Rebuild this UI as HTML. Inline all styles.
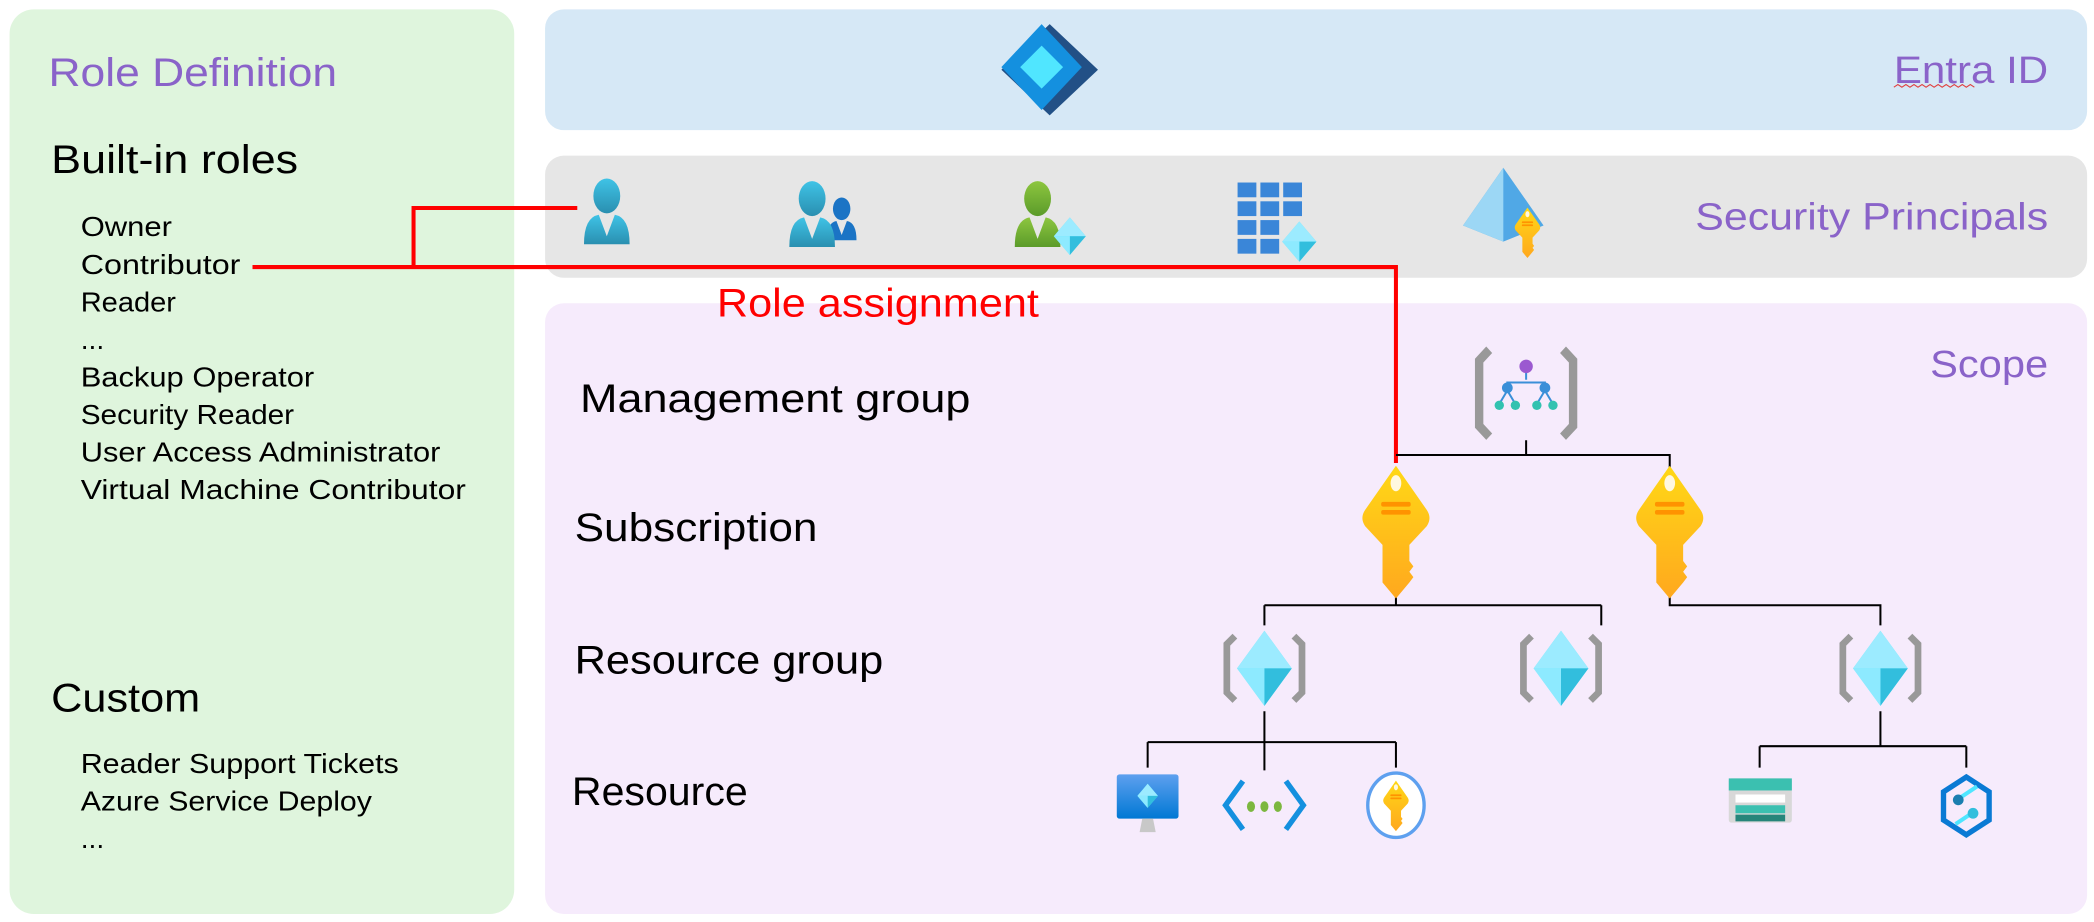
<!DOCTYPE html>
<html><head><meta charset="utf-8"><style>
html,body{margin:0;padding:0;background:#fff;width:2094px;height:922px;overflow:hidden}
svg{display:block}
text{font-family:"Liberation Sans",sans-serif}
</style></head><body>
<svg width="2094" height="922" viewBox="0 0 1560 687" xmlns="http://www.w3.org/2000/svg">
<defs>
<linearGradient id="person" x1="0" y1="0" x2="0" y2="1"><stop offset="0" stop-color="#3fc3e6"/><stop offset="1" stop-color="#2a8fb0"/></linearGradient>
<linearGradient id="green" x1="0" y1="0" x2="0" y2="1"><stop offset="0" stop-color="#8dc63f"/><stop offset="1" stop-color="#5b9b2a"/></linearGradient>
<linearGradient id="key" x1="0" y1="0" x2="0" y2="1"><stop offset="0" stop-color="#ffd816"/><stop offset="1" stop-color="#ffa81e"/></linearGradient>
<linearGradient id="vm" x1="0" y1="0" x2="0" y2="1"><stop offset="0" stop-color="#5ea0ef"/><stop offset="1" stop-color="#0078d4"/></linearGradient>
<g id="cube"><polygon points="0,-20 17,0 0,20 -17,0" fill="#50e6ff"/><polygon points="0,-20 17,0 0,0 -17,0" fill="#9cebff"/><polygon points="0,0 17,0 0,20" fill="#32bedd"/><polygon points="0,0 -17,0 0,20" fill="#9cebff" opacity=".8"/></g>
<g id="br"><path d="M-22,-24 L-28,-18 L-28,18 L-22,24 M22,-24 L28,-18 L28,18 L22,24" fill="none" stroke="#999" stroke-width="5"/></g>
<g id="keyi"><path d="M0,-43 L23,-10 Q27,-4 23,2 L10,16 L10,28 L13,32 L10,36 L13,40 L10,44 L0,56 L-10,44 L-10,16 L-23,2 Q-27,-4 -23,-10 Z" fill="url(#key)"/><ellipse cx="0" cy="-30" rx="4" ry="6" fill="#fff8e0"/><rect x="-11" y="-16" width="22" height="3.5" rx="1.5" fill="#ff9300"/><rect x="-11" y="-10" width="22" height="3.5" rx="1.5" fill="#ff9300"/></g>
<g id="pers"><ellipse cx="0" cy="-16" rx="10" ry="13"/><path d="M-17,20 Q-17,0 -6,-2 L0,14 L6,-2 Q17,0 17,20 Z"/></g>
</defs>

<rect x="7" y="7" width="376" height="674" rx="18" fill="#dff5dd"/>
<rect x="406" y="7" width="1149" height="90" rx="14" fill="#d6e8f6"/>
<rect x="406" y="116" width="1149" height="91" rx="14" fill="#e6e6e6"/>
<rect x="406" y="226" width="1149" height="455" rx="14" fill="#f6ebfc"/>

<text x="36" y="64" font-size="30" fill="#8a63c9" textLength="215" lengthAdjust="spacingAndGlyphs">Role Definition</text>
<text x="38" y="129" font-size="30" fill="#000" textLength="184" lengthAdjust="spacingAndGlyphs">Built-in roles</text>
<g font-size="21" fill="#000">
<text x="60" y="176" textLength="68" lengthAdjust="spacingAndGlyphs">Owner</text>
<text x="60" y="204" textLength="119" lengthAdjust="spacingAndGlyphs">Contributor</text>
<text x="60" y="232" textLength="71" lengthAdjust="spacingAndGlyphs">Reader</text>
<text x="60" y="260">...</text>
<text x="60" y="288" textLength="174" lengthAdjust="spacingAndGlyphs">Backup Operator</text>
<text x="60" y="316" textLength="159" lengthAdjust="spacingAndGlyphs">Security Reader</text>
<text x="60" y="344" textLength="268" lengthAdjust="spacingAndGlyphs">User Access Administrator</text>
<text x="60" y="372" textLength="287" lengthAdjust="spacingAndGlyphs">Virtual Machine Contributor</text>
<text x="60" y="576" textLength="237" lengthAdjust="spacingAndGlyphs">Reader Support Tickets</text>
<text x="60" y="604" textLength="217" lengthAdjust="spacingAndGlyphs">Azure Service Deploy</text>
<text x="60" y="632">...</text>
</g>
<text x="38" y="530" font-size="30" fill="#000" textLength="111" lengthAdjust="spacingAndGlyphs">Custom</text>

<text x="1411" y="62" font-size="28" fill="#8a63c9" textLength="115" lengthAdjust="spacingAndGlyphs">Entra ID</text>
<path d="M1411,65 l3,-2 l3,2 l3,-2 l3,2 l3,-2 l3,2 l3,-2 l3,2 l3,-2 l3,2 l3,-2 l3,2 l3,-2 l3,2 l3,-2 l3,2 l3,-2 l3,2 l3,-2 l3,2" fill="none" stroke="#e04040" stroke-width="0.8"/>
<text x="1263" y="171" font-size="28" fill="#8a63c9" textLength="263" lengthAdjust="spacingAndGlyphs">Security Principals</text>
<text x="1438" y="281" font-size="28" fill="#8a63c9" textLength="88" lengthAdjust="spacingAndGlyphs">Scope</text>
<text x="534" y="236" font-size="30" fill="#ff0000" textLength="240" lengthAdjust="spacingAndGlyphs">Role assignment</text>
<g font-size="30" fill="#000">
<text x="432" y="307" textLength="291" lengthAdjust="spacingAndGlyphs">Management group</text>
<text x="428" y="403" textLength="181" lengthAdjust="spacingAndGlyphs">Subscription</text>
<text x="428" y="502" textLength="230" lengthAdjust="spacingAndGlyphs">Resource group</text>
<text x="426" y="600" textLength="131" lengthAdjust="spacingAndGlyphs">Resource</text>
</g>

<g transform="translate(782,52)">
<polygon points="0,-34 36,0 0,34 -36,0" fill="#225086"/>
<polygon points="-6,-34 -36,-2 -6,30 24,-2" fill="#1490df"/>
<polygon points="-6,-18 10,-2 -6,14 -22,-2" fill="#50e6ff"/>
</g>

<g fill="url(#person)"><use href="#pers" transform="translate(452,162)"/></g>
<g fill="#1b74c5"><use href="#pers" transform="translate(627,166) scale(0.65)"/></g>
<g fill="url(#person)"><use href="#pers" transform="translate(605,164)"/></g>
<g fill="url(#green)"><use href="#pers" transform="translate(773,164)"/></g>
<use href="#cube" transform="translate(797,176) scale(0.7)"/>
<g fill="#3a86d8">
<rect x="922" y="136" width="14" height="11"/><rect x="939" y="136" width="14" height="11"/><rect x="956" y="136" width="14" height="11"/>
<rect x="922" y="150" width="14" height="11"/><rect x="939" y="150" width="14" height="11"/><rect x="956" y="150" width="14" height="11"/>
<rect x="922" y="164" width="14" height="11"/><rect x="939" y="164" width="14" height="11"/>
<rect x="922" y="178" width="14" height="11"/><rect x="939" y="178" width="14" height="11"/>
</g>
<use href="#cube" transform="translate(968,180) scale(0.75)"/>
<g transform="translate(1120,158)">
<polygon points="0,-33 30,10 0,22 -30,10" fill="#50a8e6"/><polygon points="0,-33 0,22 -30,10" fill="#9cd7f5"/>
</g>
<use href="#keyi" transform="translate(1138,171) scale(0.38)"/>

<g fill="none" stroke="#ff0000" stroke-width="3">
<path d="M188,199 H1040 V345"/>
<path d="M308,199 V155 H430"/>
</g>

<g fill="none" stroke="#000" stroke-width="1.5">
<path d="M1137,328 V339 M1040,339 H1244 V350"/>
<path d="M1040,435 V451 M942,451 H1193 M942,451 V466 M1193,451 V466"/>
<path d="M1244,435 V451 H1401 V466"/>
<path d="M942,530 V553 M855,553 H1040 M855,553 V572 M942,553 V574 M1040,553 V572"/>
<path d="M1401,530 V556 M1311,556 H1465 M1311,556 V572 M1465,556 V572"/>
</g>

<g transform="translate(1137,293)">
<use href="#br" transform="scale(1.25,1.35)"/>
<g stroke="#3a8fd8" stroke-width="1.5" fill="none"><path d="M0,-18 V-10 M-14,-2 V-8 H14 V-2 M-14,-2 L-20,8 M-14,-2 L-8,8 M14,-2 L8,8 M14,-2 L20,8"/></g>
<circle cx="0" cy="-20" r="5" fill="#9b59d0"/>
<circle cx="-14" cy="-4" r="4" fill="#3a8fd8"/><circle cx="14" cy="-4" r="4" fill="#3a8fd8"/>
<g fill="#32c2b0"><circle cx="-20" cy="9" r="3.5"/><circle cx="-8" cy="9" r="3.5"/><circle cx="8" cy="9" r="3.5"/><circle cx="20" cy="9" r="3.5"/></g>
</g>

<use href="#keyi" transform="translate(1040,390)"/>
<use href="#keyi" transform="translate(1244,390)"/>

<g transform="translate(942,498)"><use href="#br"/><use href="#cube" transform="scale(1.2,1.4)"/></g>
<g transform="translate(1163,498)"><use href="#br"/><use href="#cube" transform="scale(1.2,1.4)"/></g>
<g transform="translate(1401,498)"><use href="#br"/><use href="#cube" transform="scale(1.2,1.4)"/></g>

<rect x="832" y="577" width="46" height="33" rx="2" fill="url(#vm)"/>
<use href="#cube" transform="translate(855,593) scale(0.45)"/>
<path d="M851,610 H859 L861,620 H849 Z" fill="#c8c8c8"/>
<g fill="none" stroke-width="4"><path d="M926,582 L913,600 L926,618" stroke="#1490df"/><path d="M958,582 L971,600 L958,618" stroke="#1490df"/></g>
<g fill="#7cb73f"><ellipse cx="932" cy="601" rx="3" ry="4"/><ellipse cx="942" cy="601" rx="3" ry="4"/><ellipse cx="952" cy="601" rx="3" ry="4"/></g>
<ellipse cx="1040" cy="600" rx="21" ry="24" fill="#fff" stroke="#5ea0ef" stroke-width="2.5"/>
<use href="#keyi" transform="translate(1040,598) scale(0.38)"/>
<rect x="1288" y="580" width="47" height="33" rx="2" fill="#d8d8d8"/>
<rect x="1288" y="580" width="47" height="9" fill="#3bc0b0"/>
<rect x="1293" y="592" width="37" height="6" fill="#fff"/>
<rect x="1293" y="600" width="37" height="6" fill="#3bc0b0"/>
<rect x="1293" y="607" width="37" height="5" fill="#26857a"/>
<g transform="translate(1465,600)">
<polygon points="0,-21 17,-10 17,11 0,22 -17,11 -17,-10" fill="none" stroke="#0a7ad4" stroke-width="4"/>
<path d="M-4,-6 L8,-14 M4,6 L-8,14" stroke="#50e6ff" stroke-width="3"/>
<circle cx="-6" cy="-4" r="4" fill="#1a7fb0"/><circle cx="5" cy="6" r="4" fill="#32bedd"/>
</g>
</svg>
</body></html>
